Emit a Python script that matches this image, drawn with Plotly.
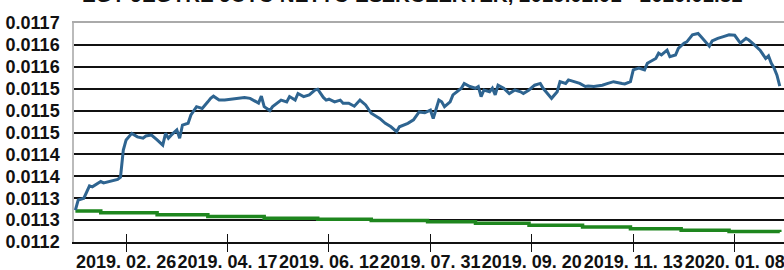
import plotly.graph_objects as go

title_text = "EGY JEGYRE JUTÓ NETTÓ ESZKÖZÉRTÉK, 2019.02.01 - 2020.01.31"

# trading-day index of x tick labels (every 36 trading days)
x_tick_idx = [18, 54, 90, 126, 162, 198, 234]
x_tick_labels = ["2019. 02. 26", "2019. 04. 17", "2019. 06. 12", "2019. 07. 31",
                 "2019. 09. 20", "2019. 11. 13", "2020. 01. 08"]
n_days = 251

y_tick_vals = [0.01120, 0.01125, 0.01130, 0.01135, 0.01140, 0.01145,
               0.01150, 0.01155, 0.01160, 0.01165, 0.01170]
y_tick_labels = ["0.0112", "0.0113", "0.0113", "0.0114", "0.0114", "0.0115",
                 "0.0115", "0.0115", "0.0116", "0.0116", "0.0117"]

# net asset value (blue), sampled by trading-day index
nav_idx = [0, 1, 3, 5, 6, 9, 10, 12, 15, 16, 17, 18, 20, 22, 24, 25, 27, 29, 31, 32,
           33, 34, 36, 37, 38, 40, 41, 43, 45, 47, 48, 49, 51, 53, 55, 57, 60, 62, 63, 65,
           66, 67, 69, 70, 73, 75, 76, 78, 79, 81, 83, 85, 86, 87, 88, 89, 90, 92, 94, 95,
           97, 99, 101, 103, 105, 107, 108, 110, 112, 114, 115, 118, 120, 122, 124, 126, 127, 129, 130, 131,
           133, 134, 136, 137, 138, 140, 142, 143, 144, 145, 147, 148, 149, 150, 152, 154, 156, 158, 159, 161,
           163, 165, 166, 169, 171, 172, 174, 175, 177, 179, 181, 182, 184, 187, 189, 191, 194, 195, 197, 198,
           200, 202, 203, 206, 207, 208, 210, 211, 213, 214, 216, 217, 219, 221, 222, 225, 226, 228, 230, 232,
           234, 236, 238, 239, 241, 243, 245, 246, 247, 248, 249, 250]
nav_val = [0.011273, 0.011296, 0.011300, 0.011328, 0.011326, 0.011338, 0.011335, 0.011338, 0.011343, 0.011348,
           0.011410, 0.011433, 0.011448, 0.011440, 0.011437, 0.011442, 0.011444, 0.011433, 0.011421, 0.011448,
           0.011437, 0.011444, 0.011456, 0.011437, 0.011467, 0.011471, 0.011490, 0.011509, 0.011505, 0.011520,
           0.011528, 0.011533, 0.011524, 0.011524, 0.011526, 0.011528, 0.011530, 0.011528, 0.011524, 0.011517,
           0.011533, 0.011509, 0.011500, 0.011509, 0.011524, 0.011520, 0.011532, 0.011524, 0.011539, 0.011532,
           0.011536, 0.011547, 0.011549, 0.011540, 0.011530, 0.011524, 0.011526, 0.011520, 0.011524, 0.011517,
           0.011517, 0.011510, 0.011524, 0.011513, 0.011494, 0.011486, 0.011482, 0.011471, 0.011463, 0.011452,
           0.011463, 0.011471, 0.011479, 0.011497, 0.011495, 0.011501, 0.011482, 0.011524, 0.011520, 0.011509,
           0.011520, 0.011536, 0.011547, 0.011551, 0.011562, 0.011555, 0.011551, 0.011555, 0.011532, 0.011547,
           0.011543, 0.011551, 0.011536, 0.011558, 0.011551, 0.011539, 0.011547, 0.011543, 0.011539, 0.011547,
           0.011558, 0.011562, 0.011551, 0.011528, 0.011543, 0.011566, 0.011562, 0.011570, 0.011566, 0.011562,
           0.011555, 0.011556, 0.011555, 0.011558, 0.011562, 0.011566, 0.011562, 0.011561, 0.011566, 0.011593,
           0.011597, 0.011593, 0.011608, 0.011619, 0.011631, 0.011627, 0.011638, 0.011623, 0.011627, 0.011642,
           0.011654, 0.011657, 0.011673, 0.011676, 0.011669, 0.011647, 0.011659, 0.011665, 0.011669, 0.011673,
           0.011672, 0.011654, 0.011665, 0.011661, 0.011650, 0.011638, 0.011619, 0.011625, 0.011608, 0.011597,
           0.011581, 0.011556]

# green reference line: step levels starting at trading-day index
ref_idx = [0, 9, 29, 47, 67, 86, 105, 125, 142, 161, 180, 197, 215, 232, 250]
ref_val = [0.011271, 0.011267, 0.011262, 0.011258, 0.011254, 0.011252, 0.011249, 0.011246,
           0.011243, 0.011238, 0.011234, 0.011230, 0.011227, 0.011224, 0.011223]

FONT = "Liberation Sans, Arial, sans-serif"
xrange = [-0.5, n_days + 0.5]

fig = go.Figure()
fig.add_trace(go.Scatter(x=ref_idx, y=ref_val, mode="lines", line_shape="hv",
                         line=dict(color="#1e861e", width=3.5), showlegend=False))
fig.add_trace(go.Scatter(x=nav_idx, y=nav_val, mode="lines",
                         line=dict(color="#2e6490", width=3), showlegend=False))

fig.update_layout(
    width=784, height=270,
    margin=dict(l=74, r=0, t=23, b=28),
    paper_bgcolor="white", plot_bgcolor="white",
    font=dict(family=FONT, color="#111111"),
    xaxis=dict(range=xrange, tickmode="array", tickvals=x_tick_idx, ticktext=x_tick_labels,
               tickangle=0, ticks="outside", ticklen=8, tickwidth=1.3, tickcolor="#111111",
               ticklabelstandoff=-5, ticklabeloverflow="allow",
               showgrid=False, zeroline=False, showline=True, linecolor="#111111", linewidth=1.5,
               tickfont=dict(size=18, family=FONT, color="#111111", weight="bold"),
               automargin=False),
    xaxis2=dict(range=xrange, overlaying="x", side="bottom", tickmode="array",
                tickvals=x_tick_idx, ticks="inside", ticklen=8, tickwidth=1.3, tickcolor="#111111",
                showticklabels=False, showgrid=False, zeroline=False, showline=False,
                automargin=False),
    xaxis3=dict(range=xrange, overlaying="x", side="top", showticklabels=False, ticks="",
                showgrid=False, zeroline=False, showline=True, linecolor="#aaaaaa", linewidth=2,
                automargin=False),
    yaxis=dict(range=[0.0112, 0.0117], tickmode="array", tickvals=y_tick_vals, ticktext=y_tick_labels,
               showgrid=True, gridcolor="#111111", gridwidth=1.5, zeroline=False,
               showline=True, linecolor="#bbbbbb", linewidth=1.5, ticks="",
               ticklabelstandoff=9,
               tickfont=dict(size=18, family=FONT, color="#111111", weight="bold"),
               automargin=False),
    annotations=[dict(text=title_text, xref="paper", yref="paper", x=0.476, y=1 + 29 / 219,
                      xanchor="center", yanchor="middle", showarrow=False,
                      font=dict(size=20.5, family=FONT, color="#111111", weight="bold"))],
)
# attach helper axes with invisible traces so they render
fig.add_trace(go.Scatter(x=[x_tick_idx[0]], y=[y_tick_vals[0]], xaxis="x2", mode="markers",
                         marker=dict(opacity=0), showlegend=False, hoverinfo="skip"))
fig.add_trace(go.Scatter(x=[x_tick_idx[0]], y=[y_tick_vals[0]], xaxis="x3", mode="markers",
                         marker=dict(opacity=0), showlegend=False, hoverinfo="skip"))

fig.write_html("out.html", post_script="document.body.style.margin='0';",
               config={"displayModeBar": False})
